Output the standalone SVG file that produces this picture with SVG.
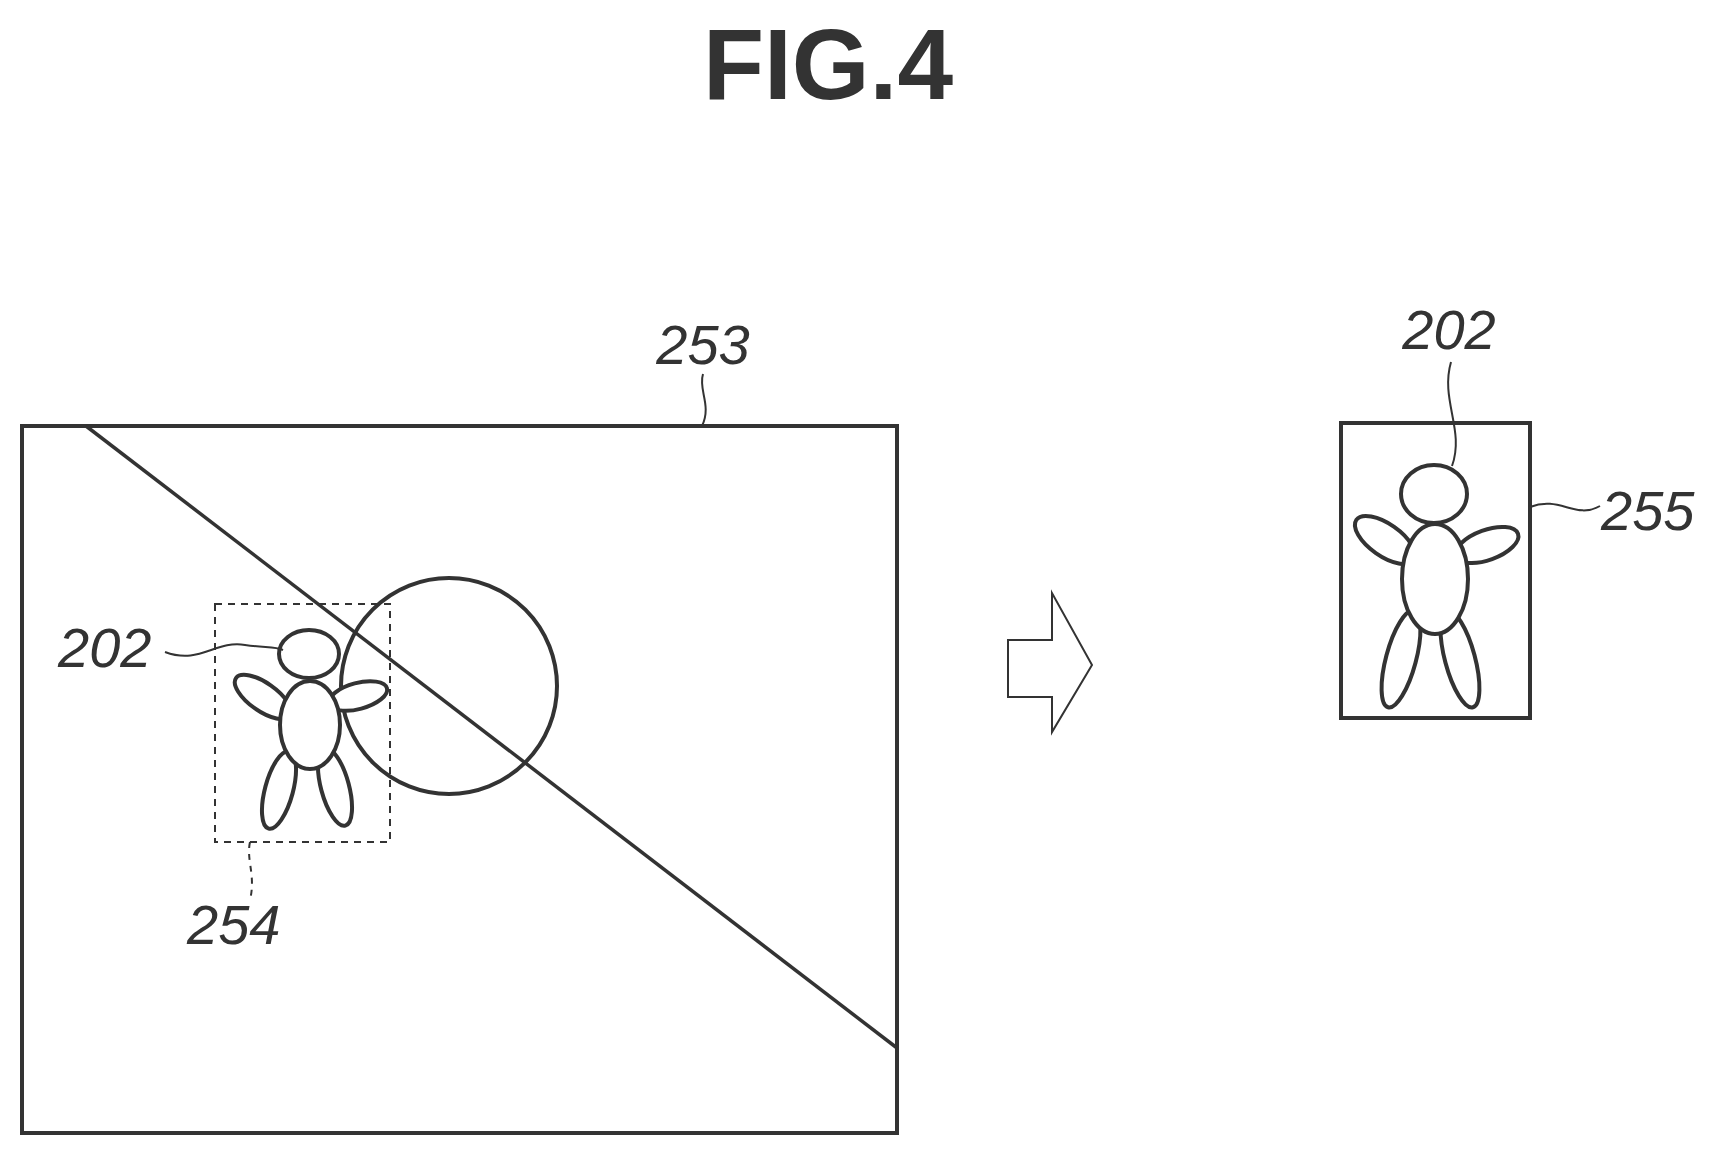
<svg xmlns="http://www.w3.org/2000/svg" width="1720" height="1155" viewBox="0 0 1720 1155">
<style>
.s{fill:none;stroke:#333;stroke-width:4}
.f{fill:#fff;stroke:#333;stroke-width:4}
.t{fill:none;stroke:#333;stroke-width:2}
.lb{font-family:"Liberation Sans",Arial,sans-serif;font-style:italic;font-size:56px;fill:#333}
</style>
<rect width="1720" height="1155" fill="#fff"/>
<text x="828" y="99" text-anchor="middle" font-family="Liberation Sans,Arial,sans-serif" font-weight="bold" font-size="100" fill="#333">FIG.4</text>
<g id="frame253">
<rect class="s" x="22" y="426" width="875" height="707"/>
<line class="t" x1="86" y1="426" x2="897" y2="1048" style="stroke-width:3.5"/>
<circle class="s" cx="449" cy="686" r="108"/>
</g>
<g id="box254">
<rect class="t" x="215" y="604" width="175" height="238" stroke-dasharray="7,6"/>
</g>
<g id="person202a">
<ellipse class="f" cx="263" cy="697" rx="33" ry="14" transform="rotate(35 263 697)"/>
<ellipse class="f" cx="358" cy="696" rx="30" ry="13" transform="rotate(-15 358 696)"/>
<ellipse class="f" cx="279" cy="790" rx="14" ry="40" transform="rotate(15 279 790)"/>
<ellipse class="f" cx="335" cy="787" rx="14" ry="40" transform="rotate(-15 335 787)"/>
<ellipse class="f" cx="309" cy="654" rx="30" ry="24"/>
<ellipse class="f" cx="310" cy="725" rx="30" ry="44"/>
</g>
<g id="arrow">
<path class="t" d="M1008,640 H1052 V593 L1092,665 L1052,732 V697 H1008 Z"/>
</g>
<g id="frame255">
<rect class="s" x="1341" y="423" width="189" height="295"/>
</g>
<g id="person202b">
<ellipse class="f" cx="1385" cy="540" rx="35" ry="16" transform="rotate(35 1385 540)"/>
<ellipse class="f" cx="1487" cy="545" rx="33" ry="15" transform="rotate(-20 1487 545)"/>
<ellipse class="f" cx="1401" cy="659" rx="15" ry="50" transform="rotate(15 1401 659)"/>
<ellipse class="f" cx="1460" cy="659" rx="15" ry="50" transform="rotate(-15 1460 659)"/>
<ellipse class="f" cx="1434" cy="494" rx="33" ry="29"/>
<ellipse class="f" cx="1435" cy="579" rx="33" ry="55"/>
</g>
<g id="labels">
<text class="lb" x="703" y="364" text-anchor="middle">253</text>
<text class="lb" x="58" y="667">202</text>
<text class="lb" x="187" y="944">254</text>
<text class="lb" x="1449" y="349" text-anchor="middle">202</text>
<text class="lb" x="1601" y="530">255</text>
</g>
<g id="connectors">
<path class="t" d="M165,652 C200,665 215,640 245,645 C265,648 275,646 283,650"/>
<path class="t" d="M703,374 C698,390 712,405 702,426"/>
<path class="t" d="M250,842 C246,860 256,875 250,900" stroke-dasharray="6,6"/>
<path class="t" d="M1451,362 C1440,400 1465,430 1452,466"/>
<path class="t" d="M1530,507 C1560,495 1575,520 1600,506"/>
</g>
</svg>
